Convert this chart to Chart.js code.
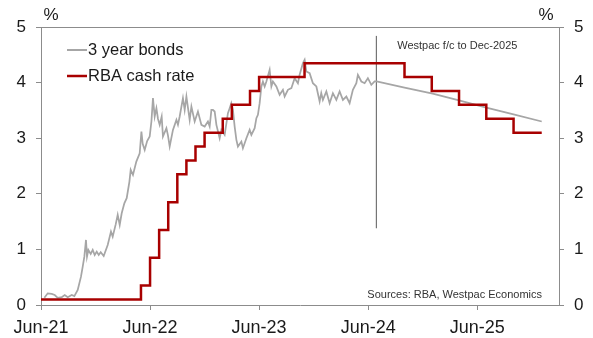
<!DOCTYPE html>
<html>
<head>
<meta charset="utf-8">
<script src="https://cdn.jsdelivr.net/npm/chart.js@4/dist/chart.umd.min.js"></script>
<style>
  html, body { margin: 0; padding: 0; background: #fff; }
</style>
</head>
<body>
<canvas id="chart" width="593" height="338"></canvas>
<script>
// x values are months since Jun-21
const xTickMonths = [0, 12, 24, 36, 48];
const xTickLabels = ["Jun-21", "Jun-22", "Jun-23", "Jun-24", "Jun-25"];

// 3 year bond yield (history then Westpac forecast)
const bondMonths = [
  0.37, 0.74, 1.18, 1.51, 1.84, 2.28, 2.61, 2.94, 3.38, 3.67,
  4.04, 4.40, 4.59, 4.77, 4.95, 5.06, 5.21, 5.47, 5.69, 5.91,
  6.13, 6.35, 6.57, 6.90, 7.12, 7.34, 7.70, 7.89, 8.22, 8.44,
  8.66, 8.88, 9.17, 9.43, 9.73, 9.87, 10.12, 10.49, 10.86, 11.05,
  11.19, 11.41, 11.68, 11.96, 12.15, 12.32, 12.51, 12.70, 12.87, 13.06,
  13.28, 13.42, 13.80, 13.97, 14.16, 14.52, 14.90, 15.07, 15.26, 15.62,
  15.81, 16.00, 16.17, 16.36, 16.55, 16.91, 17.27, 17.65, 18.01, 18.37,
  18.56, 18.75, 18.92, 19.11, 19.30, 19.66, 19.85, 20.21, 20.57, 20.76,
  20.94, 21.12, 21.31, 21.50, 21.67, 22.05, 22.22, 22.60, 22.96, 23.15,
  23.51, 23.70, 23.87, 24.06, 24.25, 24.42, 24.61, 24.80, 25.16, 25.35,
  25.52, 25.90, 26.26, 26.62, 26.81, 27.17, 27.55, 27.91, 28.27, 28.46,
  28.82, 29.01, 29.20, 29.56, 29.92, 30.30, 30.66, 30.84, 31.02, 31.40,
  31.76, 32.12, 32.50, 32.86, 33.22, 33.60, 33.96, 34.32, 34.70, 34.87,
  35.25, 35.61, 35.97, 36.35, 36.71, 36.93
];
const bondYields = [
  0.13, 0.21, 0.20, 0.18, 0.13, 0.14, 0.18, 0.14, 0.18, 0.16,
  0.27, 0.51, 0.69, 0.87, 1.17, 0.87, 0.99, 0.92, 0.99, 0.90,
  0.96, 0.90, 0.95, 0.88, 0.98, 1.08, 1.32, 1.23, 1.45, 1.62,
  1.44, 1.65, 1.83, 1.92, 2.22, 2.43, 2.34, 2.58, 2.73, 3.12,
  2.90, 2.79, 2.95, 3.03, 3.30, 3.72, 3.39, 3.54, 3.35, 3.24,
  3.39, 3.03, 3.18, 3.05, 2.85, 3.15, 3.33, 3.24, 3.39, 3.72,
  3.51, 3.75, 3.55, 3.33, 3.57, 3.30, 3.48, 3.24, 3.21, 3.30,
  3.21, 3.51, 3.51, 3.48, 3.24, 3.00, 3.15, 3.06, 3.45, 3.54,
  3.63, 3.51, 3.21, 2.97, 2.85, 2.94, 2.82, 3.00, 3.15, 3.06,
  3.18, 3.36, 3.42, 3.63, 3.93, 4.02, 3.93, 4.02, 4.23, 3.93,
  4.02, 3.93, 3.78, 3.87, 3.75, 3.87, 3.90, 4.08, 3.99, 4.14,
  4.35, 4.41, 4.20, 4.17, 3.99, 3.93, 3.66, 3.81, 3.69, 3.84,
  3.63, 3.81, 3.69, 3.84, 3.69, 3.75, 3.63, 3.87, 3.99, 4.14,
  4.02, 3.99, 4.08, 3.96, 4.02, 4.02
];
const bondFcMonths = [40, 43.1, 46, 49, 52, 55.1];
const bondFcYields = [3.91, 3.80, 3.68, 3.55, 3.43, 3.30];

// RBA cash rate: month of each change and the new rate
const cashMonths = [0, 11, 12, 13, 14, 15, 16, 17, 18, 20, 21, 23, 24, 29, 40, 43, 46, 49, 52, 55.1];
const cashRates = [0.10, 0.35, 0.85, 1.35, 1.85, 2.35, 2.60, 2.85, 3.10, 3.35, 3.60, 3.85, 4.10, 4.35, 4.10, 3.85, 3.60, 3.35, 3.10, 3.10];

// forecast divider
const fcMonth = 36.9;
const fcLineRange = [1.38, 4.84];

const axisGrey = "#8c8c8c";
const textColour = "#1a1a1a";
const fontFamily = "'Liberation Sans', Arial, sans-serif";

const toPoints = (xs, ys) => xs.map((x, i) => ({ x: x, y: ys[i] }));

const legendItems = [
    { label: "3 year bonds", colour: "#a6a6a6", width: 2 },
    { label: "RBA cash rate", colour: "#a80000", width: 2.5 },
];

const annotations = {
    id: "annotations",
    afterDraw(chart) {
        const ctx = chart.ctx;
        const area = chart.chartArea;
        const xs = chart.scales.x;
        ctx.save();

        // top border
        ctx.strokeStyle = axisGrey;
        ctx.lineWidth = 1;
        ctx.beginPath();
        ctx.moveTo(area.left, area.top + 0.5);
        ctx.lineTo(area.right, area.top + 0.5);
        ctx.stroke();

        // % labels
        ctx.fillStyle = textColour;
        ctx.font = "17px " + fontFamily;
        ctx.textBaseline = "middle";
        ctx.textAlign = "center";
        ctx.fillText("%", 51, 15);
        ctx.fillText("%", 546, 15);

        // forecast label
        ctx.font = "11px " + fontFamily;
        ctx.fillStyle = "#333333";
        ctx.fillText("Westpac f/c to Dec-2025", xs.getPixelForValue(fcMonth) + 81, 46);

        // sources
        ctx.textAlign = "right";
        ctx.fillText("Sources: RBA, Westpac Economics", 542, 295);

        // legend
        ctx.font = "16.5px " + fontFamily;
        ctx.textAlign = "left";
        legendItems.forEach((item, i) => {
            const y = 50 + i * 26;
            ctx.strokeStyle = item.colour;
            ctx.lineWidth = item.width;
            ctx.beginPath();
            ctx.moveTo(67, y);
            ctx.lineTo(87, y);
            ctx.stroke();
            ctx.fillStyle = textColour;
            ctx.fillText(item.label, 88, y);
        });

        ctx.restore();
    },
};

const yAxis = (position, width) => ({
    type: "linear",
    position: position,
    min: 0,
    max: 5,
    ticks: { stepSize: 1, padding: 10, color: textColour, font: { size: 17, family: fontFamily } },
    grid: { drawOnChartArea: false, drawTicks: true, tickLength: 5, color: axisGrey },
    border: { color: axisGrey },
    afterFit: (scale) => { scale.width = width; },
});

new Chart(document.getElementById("chart").getContext("2d"), {
    type: "line",
    data: {
        datasets: [
            {
                label: "RBA cash rate",
                data: toPoints(cashMonths, cashRates),
                borderColor: "#a80000",
                borderWidth: 2.5,
                stepped: "before",
                borderJoinStyle: "miter",
                pointRadius: 0,
                order: 0,
            },
            {
                label: "3 year bonds",
                data: toPoints(bondMonths.concat(bondFcMonths), bondYields.concat(bondFcYields)),
                borderColor: "#a6a6a6",
                borderWidth: 1.75,
                pointRadius: 0,
                tension: 0,
                order: 1,
            },
            {
                label: "forecast",
                data: toPoints([fcMonth, fcMonth], fcLineRange),
                borderColor: "#595959",
                borderWidth: 1,
                pointRadius: 0,
                order: 2,
            },
        ],
    },
    options: {
        responsive: false,
        devicePixelRatio: 1,
        animation: false,
        layout: { padding: { top: 27, left: 0, right: 0, bottom: 0 } },
        plugins: { legend: { display: false }, tooltip: { enabled: false } },
        scales: {
            x: {
                type: "linear",
                position: "bottom",
                min: 0,
                max: 57,
                afterBuildTicks: (scale) => { scale.ticks = xTickMonths.map((v) => ({ value: v })); },
                ticks: {
                    autoSkip: false,
                    maxRotation: 0,
                    padding: 7,
                    color: textColour,
                    font: { size: 18, family: fontFamily },
                    callback: (v) => xTickLabels[xTickMonths.indexOf(v)],
                },
                grid: { drawOnChartArea: false, drawTicks: true, tickLength: 5, color: axisGrey },
                border: { color: axisGrey },
                afterFit: (scale) => { scale.height = 33; },
            },
            y: yAxis("left", 41),
            y2: yAxis("right", 34),
        },
    },
    plugins: [annotations],
});
</script>
</body>
</html>
